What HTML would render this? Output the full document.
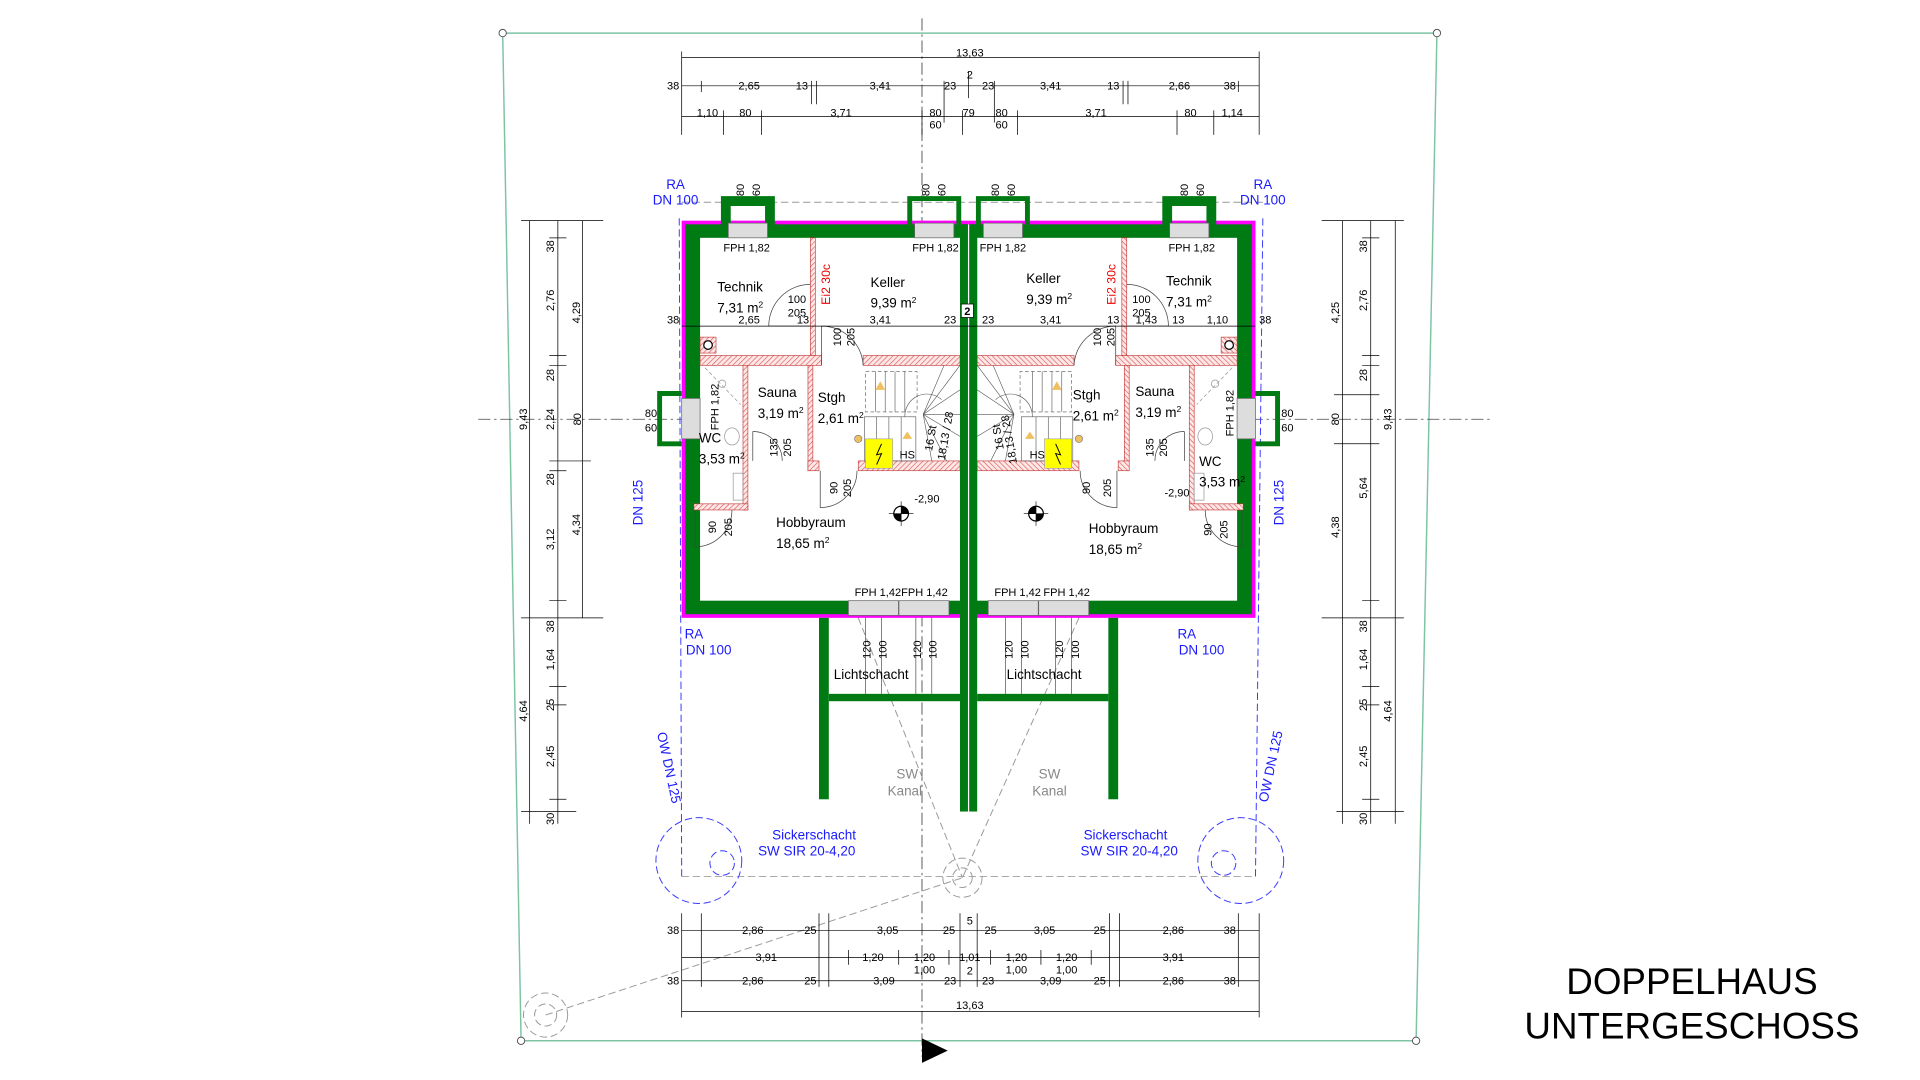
<!DOCTYPE html>
<html><head><meta charset="utf-8"><style>
html,body{margin:0;padding:0;background:#fff;}
svg{display:block;}
text{font-family:"Liberation Sans",Arial,sans-serif;}
.d{font-size:9px;fill:#000;text-anchor:middle;}
.r{font-size:11px;fill:#000;}
.b{font-size:11px;fill:#1a1aff;text-anchor:middle;}
.g{font-size:11px;fill:#888;text-anchor:middle;}
.dl{stroke:#000;stroke-width:.6;fill:none;}
.tk{stroke:#000;stroke-width:.8;}
</style></head><body>
<svg width="1920" height="1080" viewBox="0 0 1566 881" preserveAspectRatio="none" xmlns="http://www.w3.org/2000/svg">
<defs>
<pattern id="h" width="3" height="3" patternUnits="userSpaceOnUse" patternTransform="rotate(45)">
<rect width="3" height="3" fill="#fde8e8"/><line x1="0" y1="0" x2="0" y2="3" stroke="#e05050" stroke-width="1"/>
</pattern>
</defs>
<rect width="1566" height="881" fill="#fff"/>
<polygon points="410,27 1172,27 1155,849 425,849" fill="none" stroke="#7cc4a4" stroke-width="1.2"/>
<g fill="#fff" stroke="#555" stroke-width=".8"><circle cx="410" cy="27" r="3"/><circle cx="1172" cy="27" r="3"/><circle cx="1155" cy="849" r="3"/><circle cx="425" cy="849" r="3"/></g>
<line x1="752" y1="15" x2="752" y2="862" stroke="#444" stroke-width=".7" stroke-dasharray="10,3,2,3"/>
<line x1="390" y1="342" x2="1215" y2="342" stroke="#444" stroke-width=".7" stroke-dasharray="10,3,2,3"/>

<g stroke="#3a3aff" stroke-width=".8" fill="none" stroke-dasharray="6,3">
<line x1="554" y1="178" x2="556" y2="715"/><line x1="1030" y1="178" x2="1024" y2="715"/>
<line x1="556" y1="715" x2="1024" y2="715" stroke="#aaa"/>
<circle cx="570" cy="702" r="35"/><circle cx="589" cy="704" r="10"/>
<circle cx="1012" cy="702" r="35"/><circle cx="998" cy="704" r="10"/>
<line x1="556" y1="165" x2="1030" y2="165" stroke="#999"/>
</g>
<g stroke="#999" stroke-width=".8" fill="none" stroke-dasharray="6,3">
<circle cx="785" cy="716" r="16"/><circle cx="785" cy="716" r="8"/>
<circle cx="445" cy="828" r="18"/><circle cx="445" cy="828" r="9"/>
<line x1="445" y1="828" x2="785" y2="716"/>
<line x1="700" y1="504" x2="785" y2="716"/><line x1="880" y1="504" x2="785" y2="716"/>
<line x1="640" y1="400" x2="700" y2="504"/><line x1="940" y1="400" x2="880" y2="504"/>
</g>

<g id="half">
 <rect x="556" y="180" width="234" height="324" fill="#ff00ff"/>
 <rect x="559" y="183" width="231" height="318" fill="#007a12"/>
 <rect x="571" y="194" width="212" height="296" fill="#fff"/>
 <path d="M590,184 V162 H630 V184 M594,184 V166 H626 V184" fill="none" stroke="#007a12" stroke-width="4"/>
 <rect x="594" y="182" width="32" height="12" fill="#ddd" stroke="#666" stroke-width=".6"/>
 <path d="M742,184 V162 H782 V184" fill="none" stroke="#007a12" stroke-width="4"/>
 <rect x="746" y="182" width="32" height="12" fill="#ddd" stroke="#666" stroke-width=".6"/>
 <path d="M556,321 H538 V362 H556" fill="none" stroke="#007a12" stroke-width="4"/>
 <rect x="556" y="325" width="15" height="33" fill="#ddd" stroke="#666" stroke-width=".6"/>
 <rect x="692" y="490" width="82" height="12" fill="#ddd" stroke="#666" stroke-width=".6"/>
 <line x1="733" y1="490" x2="733" y2="502" stroke="#666"/>
 <g fill="url(#h)" stroke="#c03030" stroke-width=".5">
  <rect x="661" y="194" width="4" height="96"/>
  <rect x="571" y="290" width="99" height="8"/>
  <rect x="704" y="290" width="79" height="8"/>
  <rect x="606" y="298" width="4" height="118"/>
  <rect x="659" y="298" width="4" height="86"/>
  <rect x="659" y="376" width="9" height="8"/>
  <rect x="700" y="376" width="83" height="8"/>
  <rect x="566" y="411" width="44" height="5"/>
 </g>
 <rect x="571" y="275" width="13" height="13" fill="url(#h)" stroke="#c03030" stroke-width=".5"/>
 <circle cx="577.5" cy="281.5" r="3.5" fill="#fff" stroke="#000"/>
 <g fill="none" stroke="#444" stroke-width=".6">
  <path d="M661,266 H627 A34,34 0 0 1 661,232"/>
  <path d="M670,266 V298 M670,266 A34,34 0 0 1 704,298"/>
  <path d="M669,384 V414 A30,30 0 0 0 699,384"/>
  <path d="M567,416 V446 A30,30 0 0 0 597,416"/>
  <path d="M614,352 V376 M614,352 A24,24 0 0 1 638,376"/>
 </g>
 <g fill="none" stroke="#999" stroke-width=".6">
  <ellipse cx="597" cy="356" rx="6" ry="7"/><rect x="598" y="386" width="8" height="22"/>
  <circle cx="589" cy="313" r="3"/><line x1="575" y1="300" x2="604" y2="330" stroke-dasharray="3,2"/>
 </g>
 <g fill="none" stroke="#555" stroke-width=".5">
  <rect x="706" y="303" width="42" height="33" stroke-dasharray="3,2"/>
  <line x1="714" y1="303" x2="714" y2="336"/><line x1="722" y1="303" x2="722" y2="336"/><line x1="730" y1="303" x2="730" y2="336"/><line x1="738" y1="303" x2="738" y2="336"/>
  <rect x="705" y="340" width="42" height="36"/>
  <line x1="715" y1="340" x2="715" y2="376"/><line x1="725" y1="340" x2="725" y2="376"/><line x1="735" y1="340" x2="735" y2="376"/>
  <line x1="753" y1="338" x2="783" y2="298"/><line x1="753" y1="338" x2="783" y2="318"/><line x1="753" y1="338" x2="783" y2="338"/>
  <line x1="753" y1="338" x2="783" y2="356"/><line x1="753" y1="338" x2="772" y2="376"/><line x1="753" y1="338" x2="760" y2="376"/>
  <line x1="753" y1="338" x2="770" y2="298"/>
  <path d="M738,340 A18,18 0 0 1 768,326"/>
 </g>
 <polygon points="718,311 722,318 714,318" fill="#f0c060"/><polygon points="740,352 744,358 736,358" fill="#f0c060"/>
 <circle cx="700" cy="358" r="3" fill="#f0c060" stroke="#777" stroke-width=".5"/>
 <rect x="706" y="358" width="22" height="24" fill="#ffff00" stroke="#999" stroke-width=".5"/>
 <path d="M719,362 L715,371 L719,370 L715,379" stroke="#000" fill="none" stroke-width=".8"/>
 <circle cx="735" cy="419" r="6" fill="#fff" stroke="#000"/>
 <path d="M735,413 A6,6 0 0 1 741,419 H735Z M735,425 A6,6 0 0 1 729,419 H735Z" fill="#000"/>
 <line x1="725" y1="419" x2="745" y2="419" stroke="#000" stroke-width=".5"/><line x1="735" y1="409" x2="735" y2="429" stroke="#000" stroke-width=".5"/>
 <rect x="668" y="504" width="8" height="148" fill="#007a12"/>
 <rect x="676" y="566" width="107" height="6" fill="#007a12"/>
 <g stroke="#333" stroke-width=".5"><line x1="706" y1="504" x2="706" y2="566"/><line x1="719" y1="504" x2="719" y2="566"/><line x1="747" y1="504" x2="747" y2="566"/><line x1="760" y1="504" x2="760" y2="566"/></g>
</g>
<use href="#half" transform="matrix(-1 0 0 1 1580 0)"/>
<rect x="783" y="183" width="14" height="479" fill="#007a12"/>
<line x1="790" y1="183" x2="790" y2="662" stroke="#fff" stroke-width="1"/>
<rect x="784" y="248" width="10" height="11" fill="#fff" stroke="#000" stroke-width=".6"/>
<text x="789" y="257" class="d" font-weight="bold">2</text>

<g class="dl"><line x1="556" y1="266" x2="1024" y2="266"/></g>

<g class="r">
<text x="585" y="238">Technik</text><text x="585" y="255">7,31 m<tspan dy="-4" font-size="7">2</tspan></text>
<text x="710" y="234">Keller</text><text x="710" y="251">9,39 m<tspan dy="-4" font-size="7">2</tspan></text>
<text x="837" y="231">Keller</text><text x="837" y="248">9,39 m<tspan dy="-4" font-size="7">2</tspan></text>
<text x="951" y="233">Technik</text><text x="951" y="250">7,31 m<tspan dy="-4" font-size="7">2</tspan></text>
<text x="618" y="324">Sauna</text><text x="618" y="341">3,19 m<tspan dy="-4" font-size="7">2</tspan></text>
<text x="667" y="328">Stgh</text><text x="667" y="345">2,61 m<tspan dy="-4" font-size="7">2</tspan></text>
<text x="875" y="326">Stgh</text><text x="875" y="343">2,61 m<tspan dy="-4" font-size="7">2</tspan></text>
<text x="926" y="323">Sauna</text><text x="926" y="340">3,19 m<tspan dy="-4" font-size="7">2</tspan></text>
<text x="570" y="361">WC</text><text x="570" y="378">3,53 m<tspan dy="-4" font-size="7">2</tspan></text>
<text x="978" y="380">WC</text><text x="978" y="397">3,53 m<tspan dy="-4" font-size="7">2</tspan></text>
<text x="633" y="430">Hobbyraum</text><text x="633" y="447">18,65 m<tspan dy="-4" font-size="7">2</tspan></text>
<text x="888" y="435">Hobbyraum</text><text x="888" y="452">18,65 m<tspan dy="-4" font-size="7">2</tspan></text>
<text x="680" y="554">Lichtschacht</text><text x="821" y="554">Lichtschacht</text>
</g>
<g class="d" font-size="9">
<text x="609" y="205">FPH 1,82</text><text x="763" y="205">FPH 1,82</text><text x="818" y="205">FPH 1,82</text><text x="972" y="205">FPH 1,82</text>
<text x="716" y="486">FPH 1,42</text><text x="754" y="486">FPH 1,42</text><text x="830" y="486">FPH 1,42</text><text x="870" y="486">FPH 1,42</text>
<text x="549" y="264">38</text><text x="611" y="264">2,65</text><text x="655" y="264">13</text><text x="718" y="264">3,41</text><text x="775" y="264">23</text>
<text x="806" y="264">23</text><text x="857" y="264">3,41</text><text x="908" y="264">13</text><text x="935" y="264">1,43</text><text x="961" y="264">13</text><text x="993" y="264">1,10</text><text x="1032" y="264">38</text>
<text x="650" y="247">100</text><text x="650" y="258">205</text><text x="931" y="247">100</text><text x="931" y="258">205</text>
<text x="740" y="374">HS</text><text x="846" y="374">HS</text>
<text x="756" y="410">-2,90</text><text x="960" y="405">-2,90</text>
<text x="740" y="635" class="g" font-size="11">SW</text><text x="738" y="649" class="g" font-size="11">Kanal</text>
<text x="856" y="635" class="g" font-size="11">SW</text><text x="856" y="649" class="g" font-size="11">Kanal</text>
</g>
<g class="d">
<text transform="translate(677,232) rotate(-90)" style="fill:#e00" font-size="10">Ei2 30c</text>
<text transform="translate(910,232) rotate(-90)" style="fill:#e00" font-size="10">Ei2 30c</text>
<text transform="translate(686,275) rotate(-90)">100</text><text transform="translate(697,275) rotate(-90)">205</text>
<text transform="translate(898,275) rotate(-90)">100</text><text transform="translate(909,275) rotate(-90)">205</text>
<text transform="translate(634,365) rotate(-90)">135</text><text transform="translate(645,365) rotate(-90)">205</text>
<text transform="translate(941,365) rotate(-90)">135</text><text transform="translate(952,365) rotate(-90)">205</text>
<text transform="translate(683,398) rotate(-90)">90</text><text transform="translate(694,398) rotate(-90)">205</text>
<text transform="translate(889,398) rotate(-90)">90</text><text transform="translate(906,398) rotate(-90)">205</text>
<text transform="translate(584,430) rotate(-90)">90</text><text transform="translate(597,430) rotate(-90)">205</text>
<text transform="translate(988,432) rotate(-90)">90</text><text transform="translate(1001,432) rotate(-90)">205</text>
<text transform="translate(586,332) rotate(-90)">FPH 1,82</text><text transform="translate(1006,337) rotate(-90)">FPH 1,82</text>
<text transform="translate(762,358) rotate(-80)">16 St</text><text transform="translate(774,356) rotate(-80)">18,13 / 28</text>
<text transform="translate(817,356) rotate(-100)">16 St</text><text transform="translate(826,358) rotate(-100)">18,13 / 28</text>
<text transform="translate(607,155) rotate(-90)">80</text><text transform="translate(620,155) rotate(-90)">60</text>
<text transform="translate(758,155) rotate(-90)">80</text><text transform="translate(771,155) rotate(-90)">60</text>
<text transform="translate(815,155) rotate(-90)">80</text><text transform="translate(828,155) rotate(-90)">60</text>
<text transform="translate(969,155) rotate(-90)">80</text><text transform="translate(982,155) rotate(-90)">60</text>
<text transform="translate(710,530) rotate(-90)">120</text><text transform="translate(723,530) rotate(-90)">100</text>
<text transform="translate(751,530) rotate(-90)">120</text><text transform="translate(764,530) rotate(-90)">100</text>
<text transform="translate(826,530) rotate(-90)">120</text><text transform="translate(839,530) rotate(-90)">100</text>
<text transform="translate(867,530) rotate(-90)">120</text><text transform="translate(880,530) rotate(-90)">100</text>
</g>
<g class="d"><text x="531" y="340">80</text><text x="531" y="352">60</text><text x="1050" y="340">80</text><text x="1050" y="352">60</text></g>

<g class="b">
<text x="551" y="154">RA</text><text x="551" y="167">DN 100</text>
<text x="1030" y="154">RA</text><text x="1030" y="167">DN 100</text>
<text x="566" y="521">RA</text><text x="578" y="534">DN 100</text>
<text x="968" y="521">RA</text><text x="980" y="534">DN 100</text>
<text transform="translate(524,410) rotate(-90)">DN 125</text>
<text transform="translate(1047,410) rotate(-90)">DN 125</text>
<text transform="translate(542,627) rotate(78)">OW DN 125</text>
<text transform="translate(1040,626) rotate(-78)">OW DN 125</text>
<text x="664" y="685">Sickerschacht</text><text x="658" y="698">SW SIR  20-4,20</text>
<text x="918" y="685">Sickerschacht</text><text x="921" y="698">SW SIR  20-4,20</text>
</g>

<g class="dl">
<line x1="556" y1="47" x2="1027" y2="47"/><line x1="556" y1="70" x2="1027" y2="70"/><line x1="556" y1="95" x2="1027" y2="95"/>
<line x1="556" y1="42" x2="556" y2="110"/><line x1="1027" y1="42" x2="1027" y2="110"/>
<line x1="572" y1="66" x2="572" y2="75"/><line x1="662" y1="66" x2="662" y2="85"/><line x1="666" y1="66" x2="666" y2="85"/>
<line x1="770" y1="66" x2="770" y2="100"/><line x1="790" y1="58" x2="790" y2="80"/><line x1="811" y1="66" x2="811" y2="100"/>
<line x1="916" y1="66" x2="916" y2="85"/><line x1="920" y1="66" x2="920" y2="85"/><line x1="1010" y1="66" x2="1010" y2="75"/>
<line x1="590" y1="90" x2="590" y2="110"/><line x1="621" y1="90" x2="621" y2="110"/><line x1="752" y1="90" x2="752" y2="110"/><line x1="785" y1="90" x2="785" y2="110"/>
<line x1="830" y1="90" x2="830" y2="110"/><line x1="960" y1="90" x2="960" y2="110"/><line x1="990" y1="90" x2="990" y2="110"/>
</g>
<g class="d">
<text x="791" y="46">13,63</text>
<text x="549" y="73">38</text><text x="611" y="73">2,65</text><text x="654" y="73">13</text><text x="718" y="73">3,41</text><text x="775" y="73">23</text><text x="791" y="64">2</text>
<text x="806" y="73">23</text><text x="857" y="73">3,41</text><text x="908" y="73">13</text><text x="962" y="73">2,66</text><text x="1003" y="73">38</text>
<text x="577" y="95">1,10</text><text x="608" y="95">80</text><text x="686" y="95">3,71</text><text x="763" y="95">80</text><text x="763" y="105">60</text>
<text x="790" y="95">79</text><text x="817" y="95">80</text><text x="817" y="105">60</text><text x="894" y="95">3,71</text><text x="971" y="95">80</text><text x="1005" y="95">1,14</text>
</g>

<g class="dl">
<line x1="432" y1="180" x2="432" y2="672"/><line x1="455" y1="180" x2="455" y2="672"/><line x1="475" y1="180" x2="475" y2="504"/>
<line x1="1095" y1="180" x2="1095" y2="672"/><line x1="1118" y1="180" x2="1118" y2="672"/><line x1="1138" y1="180" x2="1138" y2="672"/>
<line x1="425" y1="180" x2="492" y2="180"/><line x1="425" y1="504" x2="492" y2="504"/><line x1="425" y1="662" x2="470" y2="662"/>
<line x1="1078" y1="180" x2="1145" y2="180"/><line x1="1078" y1="504" x2="1145" y2="504"/><line x1="1090" y1="662" x2="1145" y2="662"/>
<line x1="448" y1="194" x2="462" y2="194"/><line x1="448" y1="290" x2="462" y2="290"/><line x1="448" y1="298" x2="462" y2="298"/>
<line x1="448" y1="376" x2="482" y2="376"/><line x1="448" y1="384" x2="462" y2="384"/><line x1="448" y1="490" x2="462" y2="490"/>
<line x1="448" y1="560" x2="462" y2="560"/><line x1="448" y1="575" x2="462" y2="575"/><line x1="448" y1="652" x2="462" y2="652"/>
<line x1="1111" y1="194" x2="1125" y2="194"/><line x1="1111" y1="290" x2="1125" y2="290"/><line x1="1111" y1="298" x2="1125" y2="298"/>
<line x1="1088" y1="322" x2="1125" y2="322"/><line x1="1088" y1="362" x2="1125" y2="362"/><line x1="1111" y1="490" x2="1125" y2="490"/>
<line x1="1111" y1="560" x2="1125" y2="560"/><line x1="1111" y1="575" x2="1125" y2="575"/><line x1="1111" y1="652" x2="1125" y2="652"/>
</g>
<g class="d">
<text transform="translate(430,342) rotate(-90)">9,43</text><text transform="translate(430,580) rotate(-90)">4,64</text>
<text transform="translate(473,255) rotate(-90)">4,29</text><text transform="translate(473,428) rotate(-90)">4,34</text>
<text transform="translate(452,201) rotate(-90)">38</text><text transform="translate(452,245) rotate(-90)">2,76</text><text transform="translate(452,306) rotate(-90)">28</text>
<text transform="translate(452,342) rotate(-90)">2,24</text><text transform="translate(452,391) rotate(-90)">28</text><text transform="translate(452,440) rotate(-90)">3,12</text>
<text transform="translate(452,511) rotate(-90)">38</text><text transform="translate(452,538) rotate(-90)">1,64</text><text transform="translate(452,575) rotate(-90)">25</text>
<text transform="translate(452,617) rotate(-90)">2,45</text><text transform="translate(452,668) rotate(-90)">30</text>
<text transform="translate(474,342) rotate(-90)">80</text>
<text transform="translate(1092,255) rotate(-90)">4,25</text><text transform="translate(1092,430) rotate(-90)">4,38</text><text transform="translate(1135,580) rotate(-90)">4,64</text>
<text transform="translate(1135,342) rotate(-90)">9,43</text><text transform="translate(1092,342) rotate(-90)">80</text><text transform="translate(1115,398) rotate(-90)">5,64</text>
<text transform="translate(1115,201) rotate(-90)">38</text><text transform="translate(1115,245) rotate(-90)">2,76</text><text transform="translate(1115,306) rotate(-90)">28</text>
<text transform="translate(1115,511) rotate(-90)">38</text><text transform="translate(1115,538) rotate(-90)">1,64</text><text transform="translate(1115,575) rotate(-90)">25</text>
<text transform="translate(1115,617) rotate(-90)">2,45</text><text transform="translate(1115,668) rotate(-90)">30</text>
</g>

<g class="dl">
<line x1="556" y1="759" x2="1027" y2="759"/><line x1="556" y1="781" x2="1027" y2="781"/><line x1="556" y1="800" x2="1027" y2="800"/><line x1="556" y1="825" x2="1027" y2="825"/>
<line x1="556" y1="745" x2="556" y2="830"/><line x1="1027" y1="745" x2="1027" y2="830"/>
<line x1="572" y1="745" x2="572" y2="805"/><line x1="668" y1="745" x2="668" y2="805"/><line x1="676" y1="745" x2="676" y2="805"/>
<line x1="783" y1="745" x2="783" y2="805"/><line x1="797" y1="745" x2="797" y2="805"/><line x1="905" y1="745" x2="905" y2="805"/>
<line x1="913" y1="745" x2="913" y2="805"/><line x1="1010" y1="745" x2="1010" y2="805"/>
<line x1="692" y1="775" x2="692" y2="787"/><line x1="733" y1="775" x2="733" y2="787"/><line x1="774" y1="775" x2="774" y2="787"/>
<line x1="808" y1="775" x2="808" y2="787"/><line x1="849" y1="775" x2="849" y2="787"/><line x1="890" y1="775" x2="890" y2="787"/>
</g>
<g class="d">
<text x="549" y="762">38</text><text x="614" y="762">2,86</text><text x="661" y="762">25</text><text x="724" y="762">3,05</text><text x="774" y="762">25</text><text x="791" y="754">5</text>
<text x="808" y="762">25</text><text x="852" y="762">3,05</text><text x="897" y="762">25</text><text x="957" y="762">2,86</text><text x="1003" y="762">38</text>
<text x="625" y="784">3,91</text><text x="712" y="784">1,20</text><text x="754" y="784">1,20</text><text x="754" y="794">1,00</text><text x="791" y="784">1,01</text>
<text x="829" y="784">1,20</text><text x="829" y="794">1,00</text><text x="870" y="784">1,20</text><text x="870" y="794">1,00</text><text x="957" y="784">3,91</text>
<text x="549" y="803">38</text><text x="614" y="803">2,86</text><text x="661" y="803">25</text><text x="721" y="803">3,09</text><text x="775" y="803">23</text><text x="791" y="795">2</text>
<text x="806" y="803">23</text><text x="857" y="803">3,09</text><text x="897" y="803">25</text><text x="957" y="803">2,86</text><text x="1003" y="803">38</text>
<text x="791" y="823">13,63</text>
</g>

<polygon points="752,847 752,867 773,857" fill="#000"/>
<text x="1380" y="811" font-size="30" text-anchor="middle" fill="#000">DOPPELHAUS</text>
<text x="1380" y="847" font-size="30" text-anchor="middle" fill="#000">UNTERGESCHOSS</text>
</svg>
</body></html>
